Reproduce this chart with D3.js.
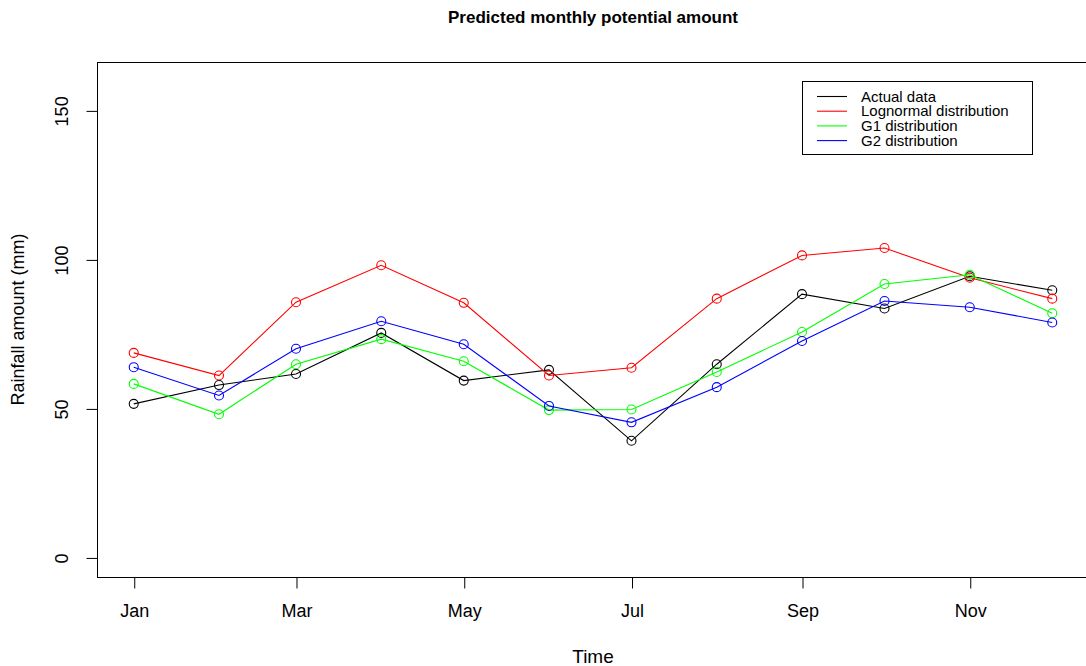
<!DOCTYPE html>
<html>
<head>
<meta charset="utf-8">
<script src="https://cdn.jsdelivr.net/npm/d3@7"></script>
<style>
  html, body { margin: 0; padding: 0; background: #fff; overflow: hidden; }
  svg { display: block; font-family: "Liberation Sans", Arial, Helvetica, sans-serif; }
</style>
</head>
<body>
<svg id="chart" width="1086" height="666"></svg>
<script>
// Monthly rainfall (mm): observed values and three fitted distributions
const months = ["Jan","Feb","Mar","Apr","May","Jun","Jul","Aug","Sep","Oct","Nov","Dec"];
const actual    = [51.7, 58.0, 61.7, 75.5, 59.5, 63.1, 39.3, 65.0, 88.5, 83.7, 94.5, 89.8];
const lognormal = [68.8, 61.2, 85.8, 98.2, 85.6, 61.2, 63.8, 87.0, 101.5, 104.0, 94.0, 87.0];
const g1        = [58.4, 48.2, 65.0, 73.4, 66.0, 49.6, 49.8, 62.4, 75.8, 91.9, 95.0, 82.1];
const g2        = [64.0, 54.5, 70.2, 79.4, 71.7, 51.0, 45.5, 57.3, 72.8, 86.2, 84.1, 79.0];
const seriesNames = ["Actual data", "Lognormal distribution", "G1 distribution", "G2 distribution"];
const seriesColors = ["#000000", "#ff0000", "#00ff00", "#0000ff"];
const yTicks = [0, 50, 100, 150];
const xTickMonths = [0, 2, 4, 6, 8, 10]; // Jan, Mar, May, Jul, Sep, Nov

const year = 2019;
const dates = months.map((m, i) => new Date(Date.UTC(year, i, 1)));
const series = [actual, lognormal, g1, g2];

const svg = d3.select("#chart");
const plot = { left: 97, right: 1089, top: 62, bottom: 577 };

// R-style 4% axis padding
const t0 = +dates[0], t1 = +dates[dates.length - 1];
const pad = (t1 - t0) * 0.04;
const x = d3.scaleUtc()
  .domain([new Date(t0 - pad), new Date(t1 + pad)])
  .range([plot.left, plot.right]);
const yMin = 0, yMax = 160, yPad = (yMax - yMin) * 0.04;
const y = d3.scaleLinear()
  .domain([yMin - yPad, yMax + yPad])
  .range([plot.bottom, plot.top]);

// Plot frame
svg.append("rect")
  .attr("x", plot.left + 0.5).attr("y", plot.top + 0.5)
  .attr("width", plot.right - plot.left).attr("height", plot.bottom - plot.top)
  .attr("fill", "none").attr("stroke", "#000").attr("stroke-width", 1);

// Axes
const fmt = d3.utcFormat("%b");
const xAxis = d3.axisBottom(x)
  .tickValues(xTickMonths.map(i => dates[i]))
  .tickFormat(d => fmt(d))
  .tickSize(11).tickPadding(18);
const gx = svg.append("g").attr("transform", `translate(0.5,${plot.bottom + 0.5})`).call(xAxis);
gx.select(".domain").remove();
gx.selectAll("text").attr("font-size", 18).attr("font-family", "Liberation Sans, Arial, sans-serif").attr("fill", "#000").attr("dy", "0.6em");

const yAxis = d3.axisLeft(y).tickValues(yTicks).tickSize(11).tickFormat(d3.format("d"));
const gy = svg.append("g").attr("transform", `translate(${plot.left + 0.5},0.5)`).call(yAxis);
gy.select(".domain").remove();
gy.selectAll("text")
  .attr("font-size", 18).attr("font-family", "Liberation Sans, Arial, sans-serif").attr("fill", "#000")
  .attr("text-anchor", "middle")
  .attr("x", null).attr("dy", null)
  .attr("transform", d => `translate(-34,${y(d)}) rotate(-90)`)
  .attr("y", 0)
  .attr("dominant-baseline", "middle");
gy.selectAll(".tick").attr("transform", "translate(0,0)");
gy.selectAll(".tick line").attr("y1", d => y(d)).attr("y2", d => y(d));

// Titles
svg.append("text")
  .attr("x", (plot.left + plot.right) / 2).attr("y", 23)
  .attr("text-anchor", "middle").attr("font-weight", "bold").attr("font-size", 17)
  .text("Predicted monthly potential amount");
svg.append("text")
  .attr("x", (plot.left + plot.right) / 2).attr("y", 663)
  .attr("text-anchor", "middle").attr("font-size", 19)
  .text("Time");
svg.append("text")
  .attr("transform", `translate(24,${(plot.top + plot.bottom) / 2}) rotate(-90)`)
  .attr("text-anchor", "middle").attr("font-size", 18)
  .text("Rainfall amount (mm)");

// Series: lines with open circles
const line = d3.line().x((d, i) => x(dates[i])).y(d => y(d));
series.forEach((vals, s) => {
  const g = svg.append("g");
  g.append("path").datum(vals)
    .attr("d", line).attr("fill", "none")
    .attr("stroke", seriesColors[s]).attr("stroke-width", 1.1);
  g.selectAll("circle").data(vals).join("circle")
    .attr("cx", (d, i) => x(dates[i])).attr("cy", d => y(d))
    .attr("r", 4.5).attr("fill", "none")
    .attr("stroke", seriesColors[s]).attr("stroke-width", 1.1);
});

// Legend
const lg = svg.append("g");
lg.append("rect")
  .attr("x", 802.5).attr("y", 81.5).attr("width", 230).attr("height", 73)
  .attr("fill", "#fff").attr("stroke", "#000").attr("stroke-width", 1);
seriesNames.forEach((name, i) => {
  const yy = 96.5 + i * 14.7;
  lg.append("line").attr("x1", 817).attr("x2", 847).attr("y1", yy).attr("y2", yy)
    .attr("stroke", seriesColors[i]).attr("stroke-width", 1.1);
  lg.append("text").attr("x", 861).attr("y", yy).attr("dy", "0.35em")
    .attr("font-size", 15).text(name);
});
</script>
</body>
</html>
